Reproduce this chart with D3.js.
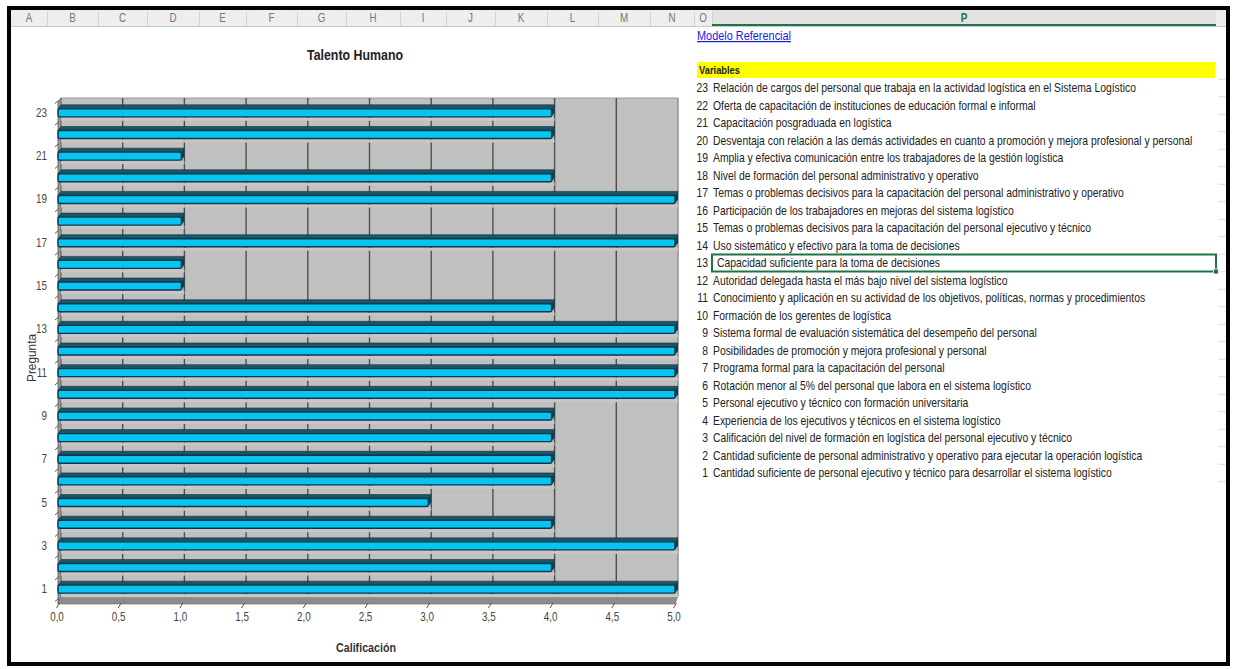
<!DOCTYPE html>
<html>
<head>
<meta charset="utf-8">
<script src="https://cdn.jsdelivr.net/npm/d3@7"></script>
<style>
  html, body { margin: 0; padding: 0; background: #ffffff; }
  svg { display: block; }
  text { font-family: "Liberation Sans", Arial, sans-serif; }
</style>
</head>
<body>
<svg id="sheet" width="1233" height="669"></svg>
<script>
// ---- data -------------------------------------------------------------
const questions = [1,2,3,4,5,6,7,8,9,10,11,12,13,14,15,16,17,18,19,20,21,22,23];
const scores    = [5,4,5,4,3,4,4,4,4,5,5,5,5,4,1,1,5,1,5,4,1,4,4];
const xTicks    = [0,0.5,1,1.5,2,2.5,3,3.5,4,4.5,5];
const yTickLabels = [1,3,5,7,9,11,13,15,17,19,21,23];
const columnLetters = ["A","B","C","D","E","F","G","H","I","J","K","L","M","N","O","P"];
const columnEdges   = [11,47,98,147,199,246,297,346,400,446,495,547,598,650,694,712,1216];
const variableNames = [
  "Relación de cargos del personal que trabaja en la actividad logística en el Sistema Logístico",
  "Oferta de capacitación de instituciones de educación formal e informal",
  "Capacitación posgraduada en logística",
  "Desventaja con relación a las demás actividades en cuanto a promoción y mejora profesional y personal",
  "Amplia y efectiva comunicación entre los trabajadores de la gestión logística",
  "Nivel de formación del personal administrativo y operativo",
  "Temas o problemas decisivos para la capacitación del personal administrativo y operativo",
  "Participación de los trabajadores en mejoras del sistema logístico",
  "Temas o problemas decisivos para la capacitación del personal ejecutivo y técnico",
  "Uso sistemático y efectivo para la toma de decisiones",
  "Capacidad suficiente para la toma de decisiones",
  "Autoridad delegada hasta el más bajo nivel del sistema logístico",
  "Conocimiento y aplicación en su actividad de los objetivos, políticas, normas y procedimientos",
  "Formación de los gerentes de logística",
  "Sistema formal de evaluación sistemática del desempeño del personal",
  "Posibilidades de promoción y mejora profesional y personal",
  "Programa formal para la capacitación del personal",
  "Rotación menor al 5% del personal que labora en el sistema logístico",
  "Personal ejecutivo y técnico con formación universitaria",
  "Experiencia de los ejecutivos y técnicos en el sistema logístico",
  "Calificación del nivel de formación en logística del personal ejecutivo y técnico",
  "Cantidad suficiente de personal administrativo y operativo para ejecutar la operación logística",
  "Cantidad suficiente de personal ejecutivo y técnico para desarrollar el sistema logístico"
];
const variableNumbers = [23,22,21,20,19,18,17,16,15,14,13,12,11,10,9,8,7,6,5,4,3,2,1];
const selectedVariable = 13;

// ---- setup ------------------------------------------------------------
const svg = d3.select("#sheet");
const NARROW = 0.82;              // horizontal squeeze for a narrow face
const LIST_SQUEEZE = 0.865;
const esLocale = d3.formatLocale({decimal: ",", thousands: ".", grouping: [3], currency: ["", "€"]});
const fmt = esLocale.format(".1f");

// spreadsheet column header strip
const header = svg.append("g");
header.append("rect").attr("x", 11).attr("y", 10).attr("width", 1215).attr("height", 16).attr("fill", "#eeeeee");
header.append("rect").attr("x", 712).attr("y", 10).attr("width", 504).attr("height", 16).attr("fill", "#e2e2e2");
header.append("line").attr("x1", 11).attr("x2", 1226).attr("y1", 26.5).attr("y2", 26.5).attr("stroke", "#c9c9c9");
header.selectAll("line.sep").data(columnEdges.slice(1, -1)).join("line")
  .attr("class", "sep").attr("x1", d => d + 0.5).attr("x2", d => d + 0.5)
  .attr("y1", 12).attr("y2", 26).attr("stroke", "#d2d2d2");
header.selectAll("text").data(columnLetters).join("text")
  .attr("transform", (d, i) => `translate(${(columnEdges[i] + columnEdges[i + 1]) / 2},22) scale(${NARROW},1)`)
  .attr("text-anchor", "middle").attr("font-size", 12)
  .attr("fill", d => d === "P" ? "#217346" : "#777777")
  .attr("font-weight", d => d === "P" ? "bold" : "normal")
  .text(d => d);
header.append("line").attr("x1", 712).attr("x2", 1216).attr("y1", 25).attr("y2", 25)
  .attr("stroke", "#217346").attr("stroke-width", 2);

// ---- chart ------------------------------------------------------------
const x = d3.scaleLinear().domain([0, 5]).range([58, 675]);
const y = d3.scaleBand().domain(questions.slice().reverse()).range([102, 600]).paddingInner(0);
const dx = 3, dy = -4;            // depth offset of the back wall
const barH = 8;
const x0 = x(0), x5 = x(5);
const yTop = y.range()[0], yBot = y.range()[1];
const floorFront = yBot + 4;

const chart = svg.append("g");

// back wall
chart.append("rect")
  .attr("x", x0 + dx).attr("y", yTop + dy)
  .attr("width", x5 - x0).attr("height", yBot - yTop)
  .attr("fill", "#c0c0c0").attr("stroke", "#8a8a8a").attr("stroke-width", 0.8);
// side wall
chart.append("polygon")
  .attr("points", [[x0, yTop], [x0 + dx, yTop + dy], [x0 + dx, yBot + dy], [x0, floorFront]].join(" "))
  .attr("fill", "#9a9a9a").attr("stroke", "#555").attr("stroke-width", 0.8);
// floor
chart.append("polygon")
  .attr("points", [[x0, floorFront], [x5, floorFront], [x5 + dx, yBot + dy], [x0 + dx, yBot + dy]].join(" "))
  .attr("fill", "#8c8c8c").attr("stroke", "#6a6a6a").attr("stroke-width", 0.6);

// vertical gridlines on the wall
chart.selectAll("line.grid").data(xTicks.filter(t => t > 0 && t < 5)).join("line")
  .attr("class", "grid")
  .attr("x1", d => x(d) + dx).attr("x2", d => x(d) + dx)
  .attr("y1", yTop + dy).attr("y2", yBot + dy)
  .attr("stroke", "#4e4e4e").attr("stroke-width", 1.4);
chart.append("line")
  .attr("x1", x5 + dx).attr("x2", x5 + dx).attr("y1", yTop + dy).attr("y2", yBot + dy)
  .attr("stroke", "#8a8a8a").attr("stroke-width", 1);

// bars
const data = questions.map((q, i) => ({q, v: scores[i]}));
const bars = chart.selectAll("g.bar").data(data).join("g").attr("class", "bar");
bars.each(function(d) {
  const g = d3.select(this);
  const by = y(d.q) + (y.bandwidth() - barH) / 2;
  const xv = x(d.v);
  // soft band just below the bar on the wall
  g.append("rect").attr("x", x0 + dx).attr("y", by + barH + 1)
    .attr("width", xv - x0).attr("height", 3).attr("fill", "#cbc5c5");
  // top face
  g.append("polygon")
    .attr("points", [[x0, by], [xv, by], [xv + dx, by + dy], [x0 + dx, by + dy]].join(" "))
    .attr("fill", "#1d5566").attr("stroke", "#0d3344").attr("stroke-width", 0.6);
  // end face
  g.append("polygon")
    .attr("points", [[xv, by], [xv + dx, by + dy], [xv + dx, by + dy + barH], [xv, by + barH]].join(" "))
    .attr("fill", "#0b3d50");
  // front face
  g.append("rect").attr("x", x0).attr("y", by)
    .attr("width", xv - x0).attr("height", barH).attr("rx", 1.5)
    .attr("fill", "#08c4f0").attr("stroke", "#083a4e").attr("stroke-width", 1.4);
});

// x axis ticks and labels
chart.selectAll("line.xtick").data(xTicks).join("line")
  .attr("class", "xtick")
  .attr("x1", d => x(d) - 1.5).attr("x2", d => x(d) + 1.5)
  .attr("y1", floorFront + 4).attr("y2", floorFront - 1)
  .attr("stroke", "#555").attr("stroke-width", 1);
chart.selectAll("text.xlab").data(xTicks).join("text")
  .attr("class", "xlab")
  .attr("transform", d => `translate(${x(d) - 1},621) scale(${NARROW},1)`)
  .attr("text-anchor", "middle").attr("font-size", 12).attr("fill", "#444")
  .text(d => fmt(d));

// y axis ticks and labels
chart.selectAll("line.ytick").data(questions.concat([0])).join("line")
  .attr("class", "ytick")
  .attr("x1", x0 - 3).attr("x2", x0 + 0.5)
  .attr("y1", d => (d === 0 ? yTop : y(d) + y.bandwidth()) + 1.5)
  .attr("y2", d => (d === 0 ? yTop : y(d) + y.bandwidth()) - 1.5)
  .attr("stroke", "#555").attr("stroke-width", 1);
chart.selectAll("text.ylab").data(yTickLabels).join("text")
  .attr("class", "ylab")
  .attr("transform", d => `translate(47,${y(d) + y.bandwidth() / 2 + 4}) scale(${NARROW},1)`)
  .attr("text-anchor", "end").attr("font-size", 12).attr("fill", "#444")
  .text(d => d);

// titles
svg.append("text").attr("x", 355).attr("y", 60)
  .attr("text-anchor", "middle").attr("font-size", 14).attr("font-weight", "bold").attr("fill", "#222")
  .attr("textLength", 96).attr("lengthAdjust", "spacingAndGlyphs")
  .text("Talento Humano");
svg.append("text").attr("x", 366).attr("y", 652)
  .attr("text-anchor", "middle").attr("font-size", 12).attr("font-weight", "bold").attr("fill", "#333")
  .attr("textLength", 60).attr("lengthAdjust", "spacingAndGlyphs")
  .text("Calificación");
svg.append("text").attr("transform", "translate(36,358) rotate(-90)")
  .attr("text-anchor", "middle").attr("font-size", 12).attr("fill", "#333")
  .attr("textLength", 48).attr("lengthAdjust", "spacingAndGlyphs")
  .text("Pregunta");

// ---- variables panel --------------------------------------------------
const panel = svg.append("g");
panel.append("text").attr("x", 697).attr("y", 40)
  .attr("font-size", 12).attr("fill", "#1a1ad6").attr("text-decoration", "underline")
  .attr("textLength", 94).attr("lengthAdjust", "spacingAndGlyphs")
  .text("Modelo Referencial");
panel.append("rect").attr("x", 697).attr("y", 62).attr("width", 518).attr("height", 16).attr("fill", "#ffff00");
panel.append("text").attr("x", 699).attr("y", 74)
  .attr("font-size", 11.5).attr("font-weight", "bold").attr("fill", "#222")
  .attr("textLength", 41).attr("lengthAdjust", "spacingAndGlyphs")
  .text("Variables");

const rowY = d3.scaleLinear().domain([0, 22]).range([88, 473]);
const rows = panel.selectAll("g.row").data(variableNames).join("g").attr("class", "row");
rows.append("text")
  .attr("transform", (d, i) => `translate(708,${rowY(i) + 4}) scale(${LIST_SQUEEZE},1)`)
  .attr("text-anchor", "end").attr("font-size", 12).attr("fill", "#222")
  .text((d, i) => variableNumbers[i]);
rows.append("text")
  .attr("transform", (d, i) => `translate(${variableNumbers[i] === selectedVariable ? 717 : 713},${rowY(i) + 4}) scale(${LIST_SQUEEZE},1)`)
  .attr("font-size", 12).attr("fill", "#222")
  .text(d => d);
// faint cell borders of the next column
panel.selectAll("line.cell").data(d3.range(0, 24)).join("line")
  .attr("class", "cell")
  .attr("x1", 1218).attr("x2", 1228)
  .attr("y1", d => rowY(d) - 8.75).attr("y2", d => rowY(d) - 8.75)
  .attr("stroke", "#dddddd");

// active cell outline
const selIdx = variableNumbers.indexOf(selectedVariable);
panel.append("rect")
  .attr("x", 712).attr("y", rowY(selIdx) - 8.5)
  .attr("width", 504).attr("height", 17)
  .attr("fill", "none").attr("stroke", "#217346").attr("stroke-width", 2);
panel.append("rect")
  .attr("x", 1213.5).attr("y", rowY(selIdx) + 6)
  .attr("width", 5).attr("height", 5).attr("fill", "#217346").attr("stroke", "#fff").attr("stroke-width", 0.8);

// outer frame
svg.append("rect").attr("x", 9).attr("y", 8).attr("width", 1219).attr("height", 656)
  .attr("fill", "none").attr("stroke", "#000").attr("stroke-width", 4);
</script>
</body>
</html>
